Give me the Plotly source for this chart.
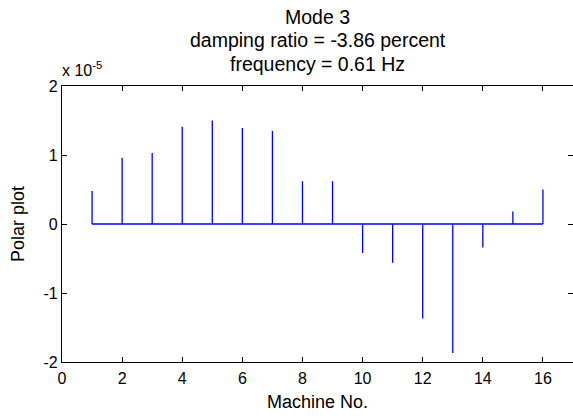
import plotly.graph_objects as go

# Mode-shape components per machine (scaled by 1e-5)
machines = list(range(1, 17))
polar_values = [0.48, 0.96, 1.03, 1.41, 1.50, 1.39, 1.35, 0.62,
                0.62, -0.42, -0.56, -1.37, -1.87, -0.34, 0.18, 0.50]
scale_exp = -5

x_ticks = [0, 2, 4, 6, 8, 10, 12, 14, 16]
y_ticks = [-2, -1, 0, 1, 2]

title_lines = ["Mode 3", "damping ratio = -3.86 percent", "frequency = 0.61 Hz"]

FONT = "Liberation Sans, Arial, sans-serif"
STEM_COLOR = "#0000ff"
TICK_SIZE = 16
LABEL_SIZE = 18
TITLE_SIZE = 19.5

# Build stems as segments separated by gaps
sx, sy = [], []
for m, v in zip(machines, polar_values):
    sx += [m, m, None]
    sy += [0, v, None]

fig = go.Figure()
fig.add_trace(go.Scatter(x=sx, y=sy, mode="lines",
                         line=dict(color=STEM_COLOR, width=1.3),
                         hoverinfo="skip", showlegend=False))
# Baseline across the stems
fig.add_trace(go.Scatter(x=[machines[0], machines[-1]], y=[0, 0], mode="lines",
                         line=dict(color=STEM_COLOR, width=1.3),
                         hoverinfo="skip", showlegend=False))

axis_common = dict(
    showline=True, linecolor="black", linewidth=1.2, mirror="ticks",
    ticks="inside", ticklen=5, tickwidth=1, tickcolor="black",
    showgrid=False, zeroline=False,
    tickfont=dict(family=FONT, size=TICK_SIZE, color="black"),
)

fig.update_layout(
    width=573, height=416,
    margin=dict(l=62, r=0, t=86, b=54),
    paper_bgcolor="white", plot_bgcolor="white",
    font=dict(family=FONT, size=LABEL_SIZE, color="black"),
    xaxis=dict(range=[0, 17], tickvals=x_ticks, ticktext=[str(t) for t in x_ticks],
               ticklabelstandoff=2,
               title=dict(text="Machine No.", font=dict(family=FONT, size=LABEL_SIZE), standoff=9),
               **axis_common),
    yaxis=dict(range=[-2, 2], tickvals=y_ticks, ticktext=[str(t) for t in y_ticks],
               title=dict(text="Polar plot", font=dict(family=FONT, size=LABEL_SIZE), standoff=14),
               **axis_common),
)

# Three-line title centered over the axes
for i, line in enumerate(title_lines):
    fig.add_annotation(text=line, xref="paper", yref="paper",
                       x=0.5, y=1, yshift=69 - i * 23.3,
                       xanchor="center", yanchor="middle", showarrow=False,
                       font=dict(family=FONT, size=TITLE_SIZE, color="black"))

# Exponent multiplier for the y axis
fig.add_annotation(text="x 10<sup>%d</sup>" % scale_exp, xref="paper", yref="paper",
                   x=0, y=1, xshift=-2, yshift=5, xanchor="left", yanchor="bottom",
                   showarrow=False, font=dict(family=FONT, size=TICK_SIZE, color="black"))

fig.write_html("out.html")
